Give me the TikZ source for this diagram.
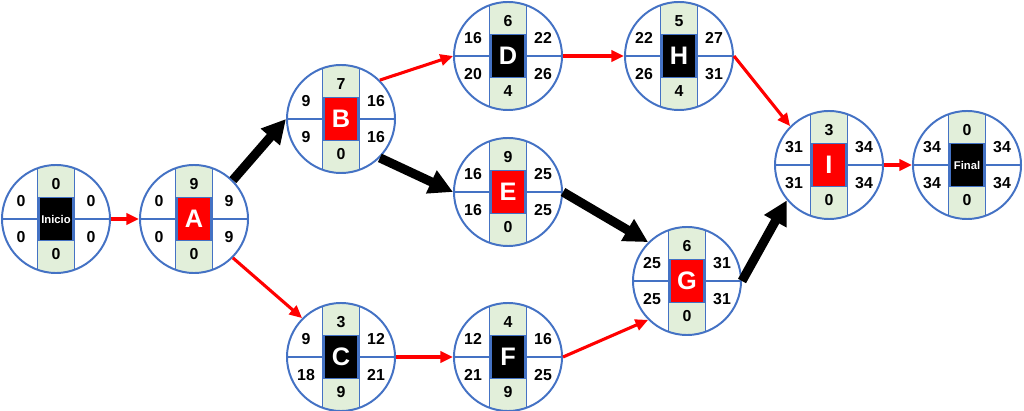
\documentclass[tikz,border=0pt]{standalone}
\usepackage{fontspec}
\setmainfont{Liberation Sans}
\usetikzlibrary{arrows.meta}

\definecolor{bluPERT}{HTML}{4472C4}
\definecolor{verdino}{HTML}{E2EFDA}
\definecolor{rosso}{HTML}{FF0000}

%% dimensioni del nodo (in px)
\def\R{54}      %% raggio del cerchio
\def\s{18.5}    %% mezza-larghezza della fascia centrale

%% #1 nome, #2 colore casella, #3 alto, #4 basso,
%% #5 sopra-sx, #6 sopra-dx, #7 sotto-sx, #8 sotto-dx, #9 etichetta
\newcommand{\attivita}[9]{%
	\begin{scope}[shift={(p#1)}]
		\begin{scope}
			\clip (0,0) circle[radius=\R];
			\fill[verdino] (-\s,-\R) rectangle (\s,\R);
			\draw[bordo] (-\s,-\R) -- (-\s,\R) (\s,-\R) -- (\s,\R);
		\end{scope}
		\draw[bordo] (-\R,0) -- (-\s,0) (\s,0) -- (\R,0);
		\node[casella, fill=#2] (#1-box) at (0,0) {#9};
		\node[cifra] (#1-t)  at (0,-35)   {#3};
		\node[cifra] (#1-b)  at (0,35)    {#4};
		\node[cifra] (#1-as) at (-35,-18) {#5};
		\node[cifra] (#1-ad) at (35,-18)  {#6};
		\node[cifra] (#1-bs) at (-35,18)  {#7};
		\node[cifra] (#1-bd) at (35,18)   {#8};
	\end{scope}
	\node[cerchio] (#1) at (p#1) {};
}
\newcommand{\piccolo}[1]{{\fontsize{8}{9}\selectfont #1}}

\begin{document}
\begin{tikzpicture}[
		x=0.025cm, y=-0.025cm,
		bordo/.style={draw=bluPERT, line width=1.3pt},
		cerchio/.style={circle, draw=bluPERT, line width=1.4pt,
			inner sep=0pt, minimum size=2.7cm},
		casella/.style={draw=bluPERT, line width=1.1pt, text=white,
			minimum width=0.85cm, minimum height=1.07cm, inner sep=0pt,
			font=\fontsize{18}{20}\selectfont\bfseries},
		cifra/.style={inner sep=0pt, font=\fontsize{11.3}{13}\selectfont\bfseries},
		normale/.style={-{Triangle[length=9pt, width=8pt]}, rosso, line width=2.2pt},
		critico/.style={-{Triangle[length=17pt, width=17pt]}, black, line width=6.5pt}]

	\useasboundingbox (0,0) rectangle (1024,411);

	%% --- posizioni dei nodi ---
	\coordinate (pInicio) at (56,219);
	\coordinate (pA)      at (194,219);
	\coordinate (pB)      at (341,119);
	\coordinate (pC)      at (341,357);
	\coordinate (pD)      at (508,56);
	\coordinate (pE)      at (508,192);
	\coordinate (pF)      at (508,357);
	\coordinate (pH)      at (679,56);
	\coordinate (pG)      at (687,281);
	\coordinate (pI)      at (829,165);
	\coordinate (pFinal)  at (967,165);

	%% --- attivita' ---
	\attivita{Inicio}{black}{0}{0}{0}{0}{0}{0}{\piccolo{Inicio}}
	\attivita{A}{rosso}{9}{0}{0}{9}{0}{9}{A}
	\attivita{B}{rosso}{7}{0}{9}{16}{9}{16}{B}
	\attivita{C}{black}{3}{9}{9}{12}{18}{21}{C}
	\attivita{D}{black}{6}{4}{16}{22}{20}{26}{D}
	\attivita{E}{rosso}{9}{0}{16}{25}{16}{25}{E}
	\attivita{F}{black}{4}{9}{12}{16}{21}{25}{F}
	\attivita{H}{black}{5}{4}{22}{27}{26}{31}{H}
	\attivita{G}{rosso}{6}{0}{25}{31}{25}{31}{G}
	\attivita{I}{rosso}{3}{0}{31}{34}{31}{34}{I}
	\attivita{Final}{black}{0}{0}{34}{34}{34}{34}{\piccolo{Final}}

	%% --- frecce: percorso critico in nero ---
	\draw[critico] (A.45)  -- (B.west);
	\draw[critico] (B.-45) -- (E.west);
	\draw[critico] (E.east) -- (G.135);
	\draw[critico] (G.east) -- (I.220);

	%% --- frecce rosse ---
	\draw[normale] (Inicio.east) -- (A.west);
	\draw[normale] (A.-45)  -- (C.135);
	\draw[normale] (B.45)   -- (D.west);
	\draw[normale] (C.east) -- (F.west);
	\draw[normale] (D.east) -- (H.west);
	\draw[normale] (F.east) -- (G.225);
	\draw[normale] (H.east) -- (I.135);
	\draw[normale] (I.east) -- (Final.west);

\end{tikzpicture}
\end{document}
